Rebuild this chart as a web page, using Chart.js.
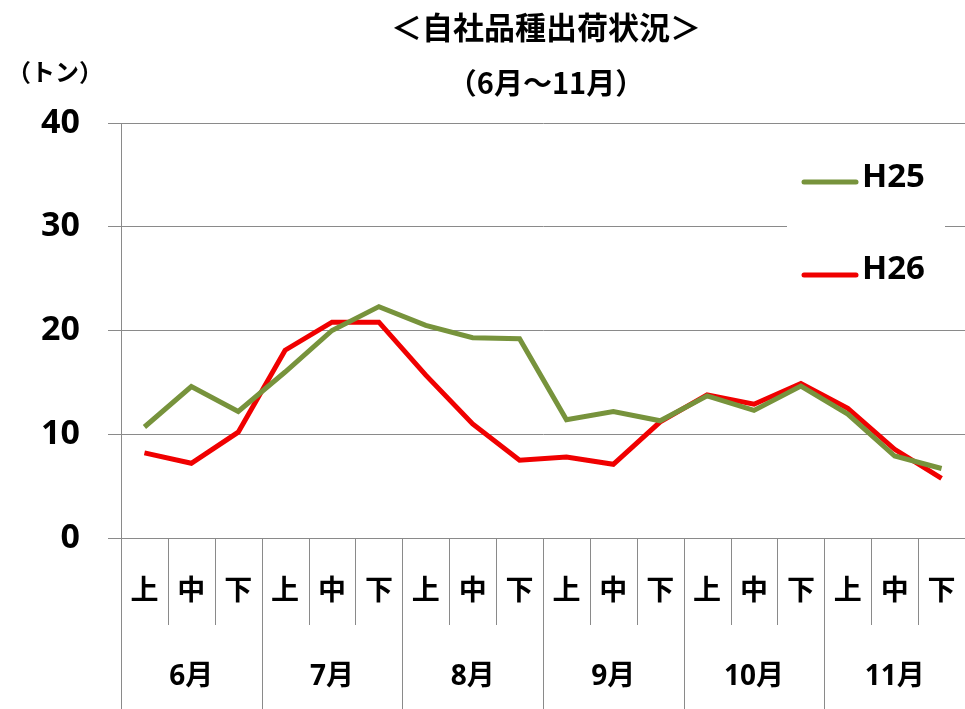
<!DOCTYPE html>
<html>
<head>
<meta charset="utf-8">
<script src="https://cdn.jsdelivr.net/npm/chart.js@4"></script>
<style>
  html, body { margin: 0; padding: 0; background: #fff; }
  #wrap { width: 965px; height: 709px; position: relative; }
</style>
</head>
<body>
<div id="wrap"><canvas id="shipChart" width="965" height="709"></canvas></div>
<script>
// ---- data ----
const periods = ['上', '中', '下'];
const months = ['6月', '7月', '8月', '9月', '10月', '11月'];
const h25 = [10.7, 14.6, 12.2, 16.0, 20.0, 22.3, 20.5, 19.3, 19.2, 11.4, 12.2, 11.3, 13.7, 12.3, 14.65, 11.95, 7.9, 6.7];
const h26 = [8.2, 7.2, 10.2, 18.1, 20.8, 20.8, 15.7, 11.0, 7.5, 7.8, 7.1, 11.2, 13.8, 12.9, 14.9, 12.5, 8.55, 5.75];
const yTicks = [0, 10, 20, 30, 40];

const labels = [];
months.forEach(m => periods.forEach(p => labels.push(m + p)));

const GREEN = '#77933C';
const RED = '#F00000';
const GRID = '#8a8a8a';
const LATIN = "'Noto Sans', 'Noto Sans CJK JP', sans-serif";
const CJK = "'Noto Sans CJK JP', sans-serif";

/* custom drawing: titles, legend, two-level category axis */
const decorPlugin = {
  id: 'decor',
  afterDraw(chart) {
    const ctx = chart.ctx;
    const x = chart.scales.x;
    const area = chart.chartArea;
    const step = (area.right - area.left) / labels.length;

    ctx.save();
    ctx.fillStyle = '#000';
    ctx.textAlign = 'center';
    ctx.textBaseline = 'middle';

    // titles
    ctx.font = 'bold 31px ' + CJK;
    ctx.fillText('＜自社品種出荷状況＞', 546, 27);
    ctx.font = 'bold 29px ' + CJK;
    ctx.fillText('（6月～11月）', 546, 83);
    ctx.font = 'bold 24px ' + CJK;
    ctx.fillText('（トン）', 55, 72);

    // legend
    ctx.fillStyle = '#fff';
    ctx.fillRect(787, 150, 158, 150);
    ctx.lineCap = 'round';
    ctx.lineWidth = 5;
    ctx.strokeStyle = GREEN;
    ctx.beginPath(); ctx.moveTo(804, 182); ctx.lineTo(856, 182); ctx.stroke();
    ctx.strokeStyle = RED;
    ctx.beginPath(); ctx.moveTo(804, 275); ctx.lineTo(856, 275); ctx.stroke();
    ctx.fillStyle = '#000';
    ctx.textAlign = 'left';
    ctx.font = 'bold 33px ' + LATIN;
    ctx.fillText('H25', 862, 178);
    ctx.fillText('H26', 862, 270);

    // separators under the axis
    ctx.lineCap = 'butt';
    ctx.strokeStyle = GRID;
    ctx.lineWidth = 1;
    for (let k = 0; k <= labels.length; k++) {
      const px = Math.round(area.left + k * step) + 0.5;
      const bottom = (k % 3 === 0) ? chart.height : area.bottom + 87;
      ctx.beginPath(); ctx.moveTo(px, area.bottom); ctx.lineTo(px, bottom); ctx.stroke();
    }

    // category labels
    ctx.textAlign = 'center';
    ctx.font = 'bold 28px ' + CJK;
    labels.forEach((l, i) => {
      ctx.fillText(periods[i % 3], x.getPixelForValue(i), 589);
    });
    ctx.font = 'bold 28px ' + LATIN;
    months.forEach((m, j) => {
      const cx = x.getPixelForValue(j * 3 + 1);
      ctx.fillText(m, cx, 677);
    });
    ctx.restore();
  }
};

new Chart(document.getElementById('shipChart').getContext('2d'), {
  type: 'line',
  data: {
    labels: labels,
    datasets: [{
      label: 'H25',
      data: h25,
      borderColor: GREEN,
      borderWidth: 5,
      pointRadius: 0,
      tension: 0,
      clip: false
    }, {
      label: 'H26',
      data: h26,
      borderColor: RED,
      borderWidth: 5,
      pointRadius: 0,
      tension: 0,
      clip: false
    }]
  },
  options: {
    responsive: false,
    animation: false,
    layout: { padding: { top: 123, right: 0, left: 0, bottom: 0 } },
    plugins: {
      legend: { display: false },
      title: { display: false },
      tooltip: { enabled: false }
    },
    scales: {
      x: {
        offset: true,
        grid: { display: false },
        border: { display: false },
        ticks: { display: false },
        afterFit(scale) { scale.height = 171; }
      },
      y: {
        min: 0,
        max: 40,
        afterBuildTicks(scale) { scale.ticks = yTicks.map(v => ({ value: v })); },
        grid: { color: GRID, lineWidth: 1, tickLength: 13 },
        border: { display: true, color: GRID, width: 1 },
        ticks: {
          padding: 28,
          color: '#000',
          font: { family: LATIN, size: 34, weight: 'bold' }
        },
        afterFit(scale) { scale.width = 121; }
      }
    }
  },
  plugins: [decorPlugin]
});
</script>
</body>
</html>
